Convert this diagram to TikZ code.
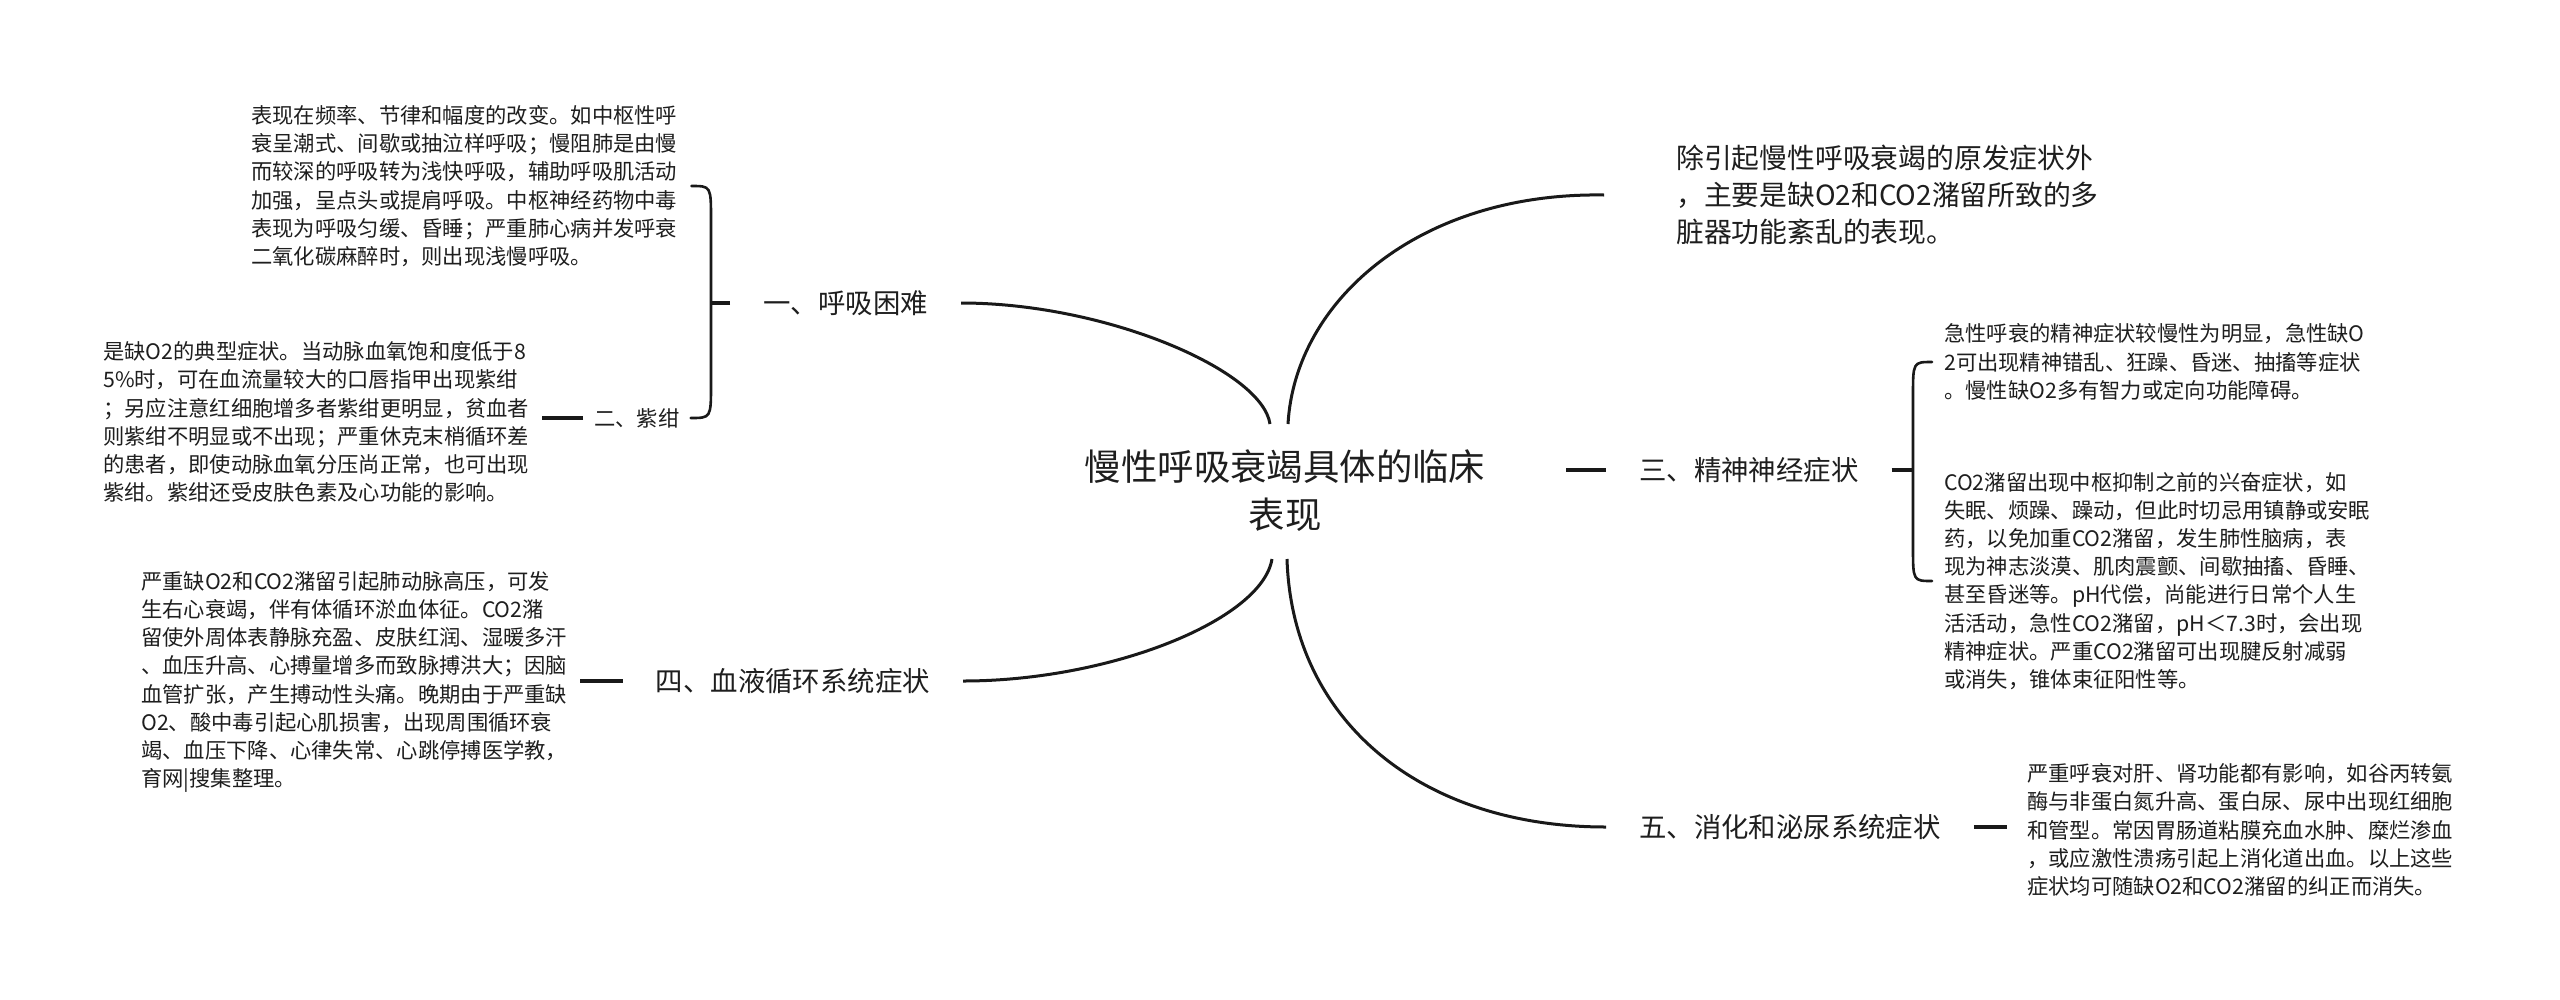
\documentclass[tikz,border=0pt]{standalone}
\usepackage{fontspec}
\setmainfont{Noto Sans CJK SC}
\definecolor{txt}{RGB}{30,30,30}
\definecolor{lc}{RGB}{25,25,25}
\begin{document}
\begin{tikzpicture}[x=1pt,y=-1pt,
  rootnode/.style={font=\fontsize{36.4}{48}\selectfont, align=center, inner sep=0pt, text=txt},
  lvone/.style={font=\fontsize{27.4}{36}\selectfont, inner xsep=33pt, inner ysep=0pt, text=txt},
  detail/.style={font=\fontsize{21.3}{28.2}\selectfont, align=left, inner sep=0pt, anchor=west, text=txt},
  toptext/.style={font=\fontsize{27.8}{37}\selectfont, align=left, inner sep=0pt, anchor=west, text=txt},
  conn/.style={line width=3pt, draw=lc},
  stubline/.style={line width=3.5pt, draw=lc},
  brk/.style={line width=2.6pt, draw=lc, line cap=round}]
\fill[white] (0,0) rectangle (2560,999);
\useasboundingbox (0,0) rectangle (2560,999);

% root
\node[rootnode] (root) at (1285,491) {慢性呼吸衰竭具体的临床\\表现};
\coordinate (rTL) at (1270,424);
\coordinate (rTR) at (1288,424);
\coordinate (rBL) at (1272,559);
\coordinate (rBR) at (1287,559);
\coordinate (rR) at (1566,470);

% level one
\node[lvone, anchor=east] (l1) at (961,303) {一、呼吸困难};
\node[lvone, anchor=west] (l3) at (1606,470) {三、精神神经症状};
\node[lvone, anchor=east] (l4) at (963,681) {四、血液循环系统症状};
\node[lvone, anchor=west] (l5) at (1606,827) {五、消化和泌尿系统症状};
\node[toptext] (tr) at (1676,195) {除引起慢性呼吸衰竭的原发症状外\\，主要是缺O2和CO2潴留所致的多\\脏器功能紊乱的表现。};

% level two
\node[font=\fontsize{21.3}{28.2}\selectfont, text=txt, inner xsep=11pt, inner ysep=0pt, anchor=west] (l2) at (583,418) {二、紫绀};

% details
\node[detail] (d1) at (251,186) {表现在频率、节律和幅度的改变。如中枢性呼\\衰呈潮式、间歇或抽泣样呼吸；慢阻肺是由慢\\而较深的呼吸转为浅快呼吸，辅助呼吸肌活动\\加强，呈点头或提肩呼吸。中枢神经药物中毒\\表现为呼吸匀缓、昏睡；严重肺心病并发呼衰\\二氧化碳麻醉时，则出现浅慢呼吸。};
\node[detail] (d2) at (103,422) {是缺O2的典型症状。当动脉血氧饱和度低于8\\5\%时，可在血流量较大的口唇指甲出现紫绀\\；另应注意红细胞增多者紫绀更明显，贫血者\\则紫绀不明显或不出现；严重休克末梢循环差\\的患者，即使动脉血氧分压尚正常，也可出现\\紫绀。紫绀还受皮肤色素及心功能的影响。};
\node[detail] (d4) at (141,682) {严重缺O2和CO2潴留引起肺动脉高压，可发\\生右心衰竭，伴有体循环淤血体征。CO2潴\\留使外周体表静脉充盈、皮肤红润、湿暖多汗\\、血压升高、心搏量增多而致脉搏洪大；因脑\\血管扩张，产生搏动性头痛。晚期由于严重缺\\O2、酸中毒引起心肌损害，出现周围循环衰\\竭、血压下降、心律失常、心跳停搏医学教，\\育网|搜集整理。};
\node[detail] (d3a) at (1944,362) {急性呼衰的精神症状较慢性为明显，急性缺O\\2可出现精神错乱、狂躁、昏迷、抽搐等症状\\。慢性缺O2多有智力或定向功能障碍。};
\node[detail] (d3b) at (1944,581) {CO2潴留出现中枢抑制之前的兴奋症状，如\\失眠、烦躁、躁动，但此时切忌用镇静或安眠\\药，以免加重CO2潴留，发生肺性脑病，表\\现为神志淡漠、肌肉震颤、间歇抽搐、昏睡、\\甚至昏迷等。pH代偿，尚能进行日常个人生\\活活动，急性CO2潴留，pH＜7.3时，会出现\\精神症状。严重CO2潴留可出现腱反射减弱\\或消失，锥体束征阳性等。};
\node[detail] (d5) at (2027,830) {严重呼衰对肝、肾功能都有影响，如谷丙转氨\\酶与非蛋白氮升高、蛋白尿、尿中出现红细胞\\和管型。常因胃肠道粘膜充血水肿、糜烂渗血\\，或应激性溃疡引起上消化道出血。以上这些\\症状均可随缺O2和CO2潴留的纠正而消失。};

% root connectors
\draw[conn] (rTL) .. controls (1262,370) and (1105,303) .. (l1.east);
\draw[conn] (rTR) .. controls (1295,300) and (1420,192) .. ([xshift=-72pt]tr.west);
\draw[conn] (rBL) .. controls (1262,620) and (1110,681) .. (l4.east);
\draw[conn] (rBR) .. controls (1292,720) and (1420,827) .. (l5.west);
\draw[stubline] (rR) -- (l3.west);

% branch one: bracket
\coordinate (bx1) at (711,303);
\draw[stubline] (l1.west) -- (bx1);
\draw[brk] ([xshift=14pt]d1.east) .. controls (bx1 |- d1.east) .. ([yshift=-34pt]bx1 |- d1.east)
  -- ([yshift=34pt]bx1 |- l2.east) .. controls (bx1 |- l2.east) .. (l2.east);
\draw[stubline] (l2.west) -- ([xshift=13pt]d2.east |- l2.west);

% branch three: bracket
\coordinate (bx3) at (1913,470);
\draw[stubline] (l3.east) -- (bx3);
\draw[brk] ([xshift=-12pt]d3a.west) .. controls (bx3 |- d3a.west) .. ([yshift=-34pt]bx3 |- d3a.west)
  -- ([yshift=34pt]bx3 |- d3b.west) .. controls (bx3 |- d3b.west) .. ([xshift=-12pt]d3b.west);

% branch four and five
\draw[stubline] (l4.west) -- ([xshift=13pt]d4.east |- l4.west);
\draw[stubline] (l5.east) -- ([xshift=-20pt]d5.west |- l5.east);
\end{tikzpicture}
\end{document}
